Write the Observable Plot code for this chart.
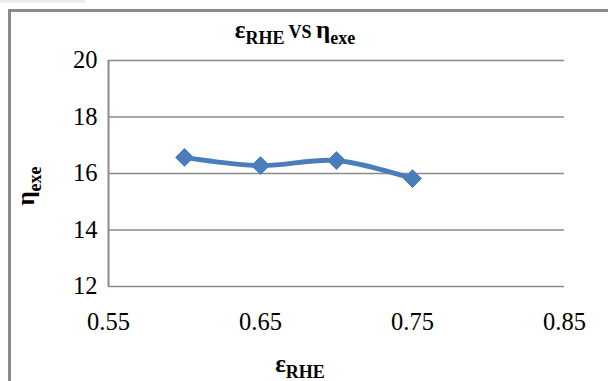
<!DOCTYPE html>
<html>
<head>
<meta charset="utf-8">
<script src="https://cdn.jsdelivr.net/npm/d3@7"></script>
<script src="https://cdn.jsdelivr.net/npm/@observablehq/plot@0.6"></script>
<style>
  html, body { margin: 0; padding: 0; background: #fff; }
  #wrap { position: relative; width: 608px; height: 381px; overflow: hidden; }
  #strip { position: absolute; left: 0; top: 0; width: 85px; height: 3px; background: #ececec; }
  #frame { position: absolute; left: 8px; top: 9px; width: 700px; height: 500px;
           border-left: 3px solid #8a8a8a; border-top: 3px solid #8a8a8a; box-sizing: border-box; }
  #chart { position: absolute; left: 0; top: 0; }
  #chart svg text, #chart svg tspan { font-family: "Liberation Serif", "DejaVu Serif", serif !important; }
  #chart svg [aria-label$="tick label"] text { font-size: 24.5px !important; }
</style>
</head>
<body>
<div id="wrap"><div id="strip"></div><div id="frame"></div><div id="chart"></div></div>
<script>
// Efficiency vs. epsilon (RHE)
const epsRHE = [0.60, 0.65, 0.70, 0.75];
const etaExe = [16.57, 16.28, 16.46, 15.82];

const xTicks = [0.55, 0.65, 0.75, 0.85];
const yTicks = [12, 14, 16, 18, 20];

const points = epsRHE.map((x, i) => ({x, y: etaExe[i]}));

const gridColor = "#8a8a8a";
const lineColor = "#4A7EBB";
const serif = "Liberation Serif, DejaVu Serif, serif";

const chart = Plot.plot({
  width: 608,
  height: 381,
  marginLeft: 108,
  marginRight: 44,
  marginTop: 60,
  marginBottom: 95,
  style: {fontFamily: serif, fontSize: "24px", color: "#000", background: "transparent", overflow: "visible"},
  x: {domain: [0.55, 0.85]},
  y: {domain: [12, 20]},
  marks: [
    Plot.gridY(yTicks, {stroke: gridColor, strokeOpacity: 1, strokeWidth: 1.6}),
    Plot.ruleX([0.55], {y1: 12, y2: 20, stroke: gridColor, strokeWidth: 2}),
    Plot.axisX(xTicks, {tickSize: 0, tickPadding: 26, tickFormat: d3.format(".2f"), label: null, fontSize: 24}),
    Plot.axisY(yTicks, {tickSize: 0, tickPadding: 11, label: null, fontSize: 24}),
    Plot.line(points, {x: "x", y: "y", stroke: lineColor, strokeWidth: 5, curve: "catmull-rom"}),
    Plot.dot(points, {x: "x", y: "y", symbol: "diamond2", r: 8, fill: lineColor, stroke: lineColor, strokeWidth: 1})
  ]
});
document.getElementById("chart").appendChild(chart);

// Titles with subscripts
const svg = d3.select(chart);
function label(x, y, parts, rotate, subShift) {
  const t = svg.append("text")
    .attr("transform", `translate(${x},${y})` + (rotate ? ` rotate(${rotate})` : ""))
    .attr("text-anchor", "middle")
    .attr("font-family", serif)
    .attr("font-weight", "bold")
    .attr("fill", "#000");
  let level = 0;
  for (const [s, kind] of parts) {
    const target = kind === "sub" ? subShift : 0;
    t.append("tspan")
      .attr("dy", target - level)
      .attr("font-size", kind === "big" ? 25 : 18)
      .text(s);
    level = target;
  }
}
label(295, 38, [["ε", "big"], ["RHE", "sub"], [" VS ", "norm"], ["η", "big"], ["exe", "sub"]], 0, 6);
label(34, 186, [["η", "big"], ["exe", "sub"]], -90, 7);
label(300, 372, [["ε", "big"], ["RHE", "sub"]], 0, 6);
</script>
</body>
</html>
